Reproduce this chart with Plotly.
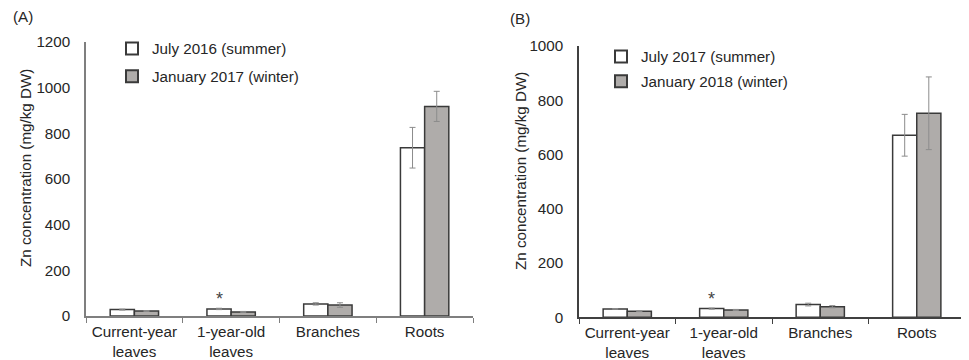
import plotly.graph_objects as go

categories = ["Current-year<br>leaves", "1-year-old<br>leaves", "Branches", "Roots"]

# Panel A
a_summer_name = "July 2016 (summer)"
a_winter_name = "January 2017 (winter)"
a_summer = [28, 31, 53, 737]
a_summer_err = [2, 3, 5, 89]
a_winter = [22, 18, 48, 918]
a_winter_err = [2, 2, 10, 66]

# Panel B
b_summer_name = "July 2017 (summer)"
b_winter_name = "January 2018 (winter)"
b_summer = [31, 32, 47, 671]
b_summer_err = [1, 2, 5, 77]
b_winter = [22, 27, 39, 752]
b_winter_err = [1, 2, 4, 134]

y_title = "Zn concentration (mg/kg DW)"
sig_index = 1  # asterisk over summer bar of 1-year-old leaves

FONT = "Liberation Sans, Arial, sans-serif"
FS = 15.2
TXT = "#262626"
GRAY = "#afacaa"
EDGE = "#3a3a3a"
ERR = "#8c8c8c"

# page has an 8px body margin; size figure so it fits the 969x360 window
OFF = 8
W, H = 969 - OFF, 360 - OFF


def px(x):
    return (x - OFF) / W


def py(y):
    return 1 - (y - OFF) / H


fig = go.Figure()


def add_panel(xa, ya, legend, s_name, s_vals, s_err, w_name, w_vals, w_err):
    fig.add_trace(go.Bar(
        x=categories, y=s_vals, name=s_name, xaxis=xa, yaxis=ya, legend=legend,
        legendgroup=legend + "s",
        marker=dict(color="white", line=dict(color=EDGE, width=1.5)),
        error_y=dict(type="data", array=s_err, color=ERR, thickness=1, width=3),
    ))
    fig.add_trace(go.Bar(
        x=categories, y=w_vals, name=w_name, xaxis=xa, yaxis=ya, legend=legend,
        legendgroup=legend + "w",
        marker=dict(color=GRAY, line=dict(color=EDGE, width=1.5)),
        error_y=dict(type="data", array=w_err, color=ERR, thickness=1, width=3),
    ))


add_panel("x", "y", "legend", a_summer_name, a_summer, a_summer_err,
          a_winter_name, a_winter, a_winter_err)
add_panel("x2", "y2", "legend2", b_summer_name, b_summer, b_summer_err,
          b_winter_name, b_winter, b_winter_err)

xcommon = dict(type="category", tickson="boundaries", ticks="outside", ticklen=5,
               tickwidth=1, showgrid=False, zeroline=False, showline=True, linewidth=1.5,
               automargin=False, ticklabelstandoff=1,
               tickfont=dict(family=FONT, size=FS, color=TXT), range=[-0.5, 3.5])
ycommon = dict(showgrid=False, zeroline=False, showline=True, linewidth=1.5,
               ticks="", dtick=200, ticklabelstandoff=11, automargin=False,
               tickfont=dict(family=FONT, size=FS, color=TXT))

fig.update_layout(
    width=W, height=H,
    margin=dict(l=0, r=0, t=0, b=0),
    paper_bgcolor="white", plot_bgcolor="white",
    barmode="group", bargap=0.5, bargroupgap=0,
    showlegend=True,
    xaxis=dict(domain=[px(86), px(473)], anchor="y", linecolor="#7f7f7f", tickcolor="#7f7f7f", **xcommon),
    yaxis=dict(domain=[py(316), py(42)], anchor="x", range=[0, 1200], linecolor="#7f7f7f", **ycommon),
    xaxis2=dict(domain=[px(579), px(965)], anchor="y2", linecolor="#404040", tickcolor="#404040", **xcommon),
    yaxis2=dict(domain=[py(317.3), py(46)], anchor="x2", range=[0, 1000], linecolor="#404040", **ycommon),
    legend=dict(x=px(112), y=py(32), xanchor="left", yanchor="top", bgcolor="rgba(0,0,0,0)",
                font=dict(family=FONT, size=FS, color=TXT), tracegroupgap=5, itemsizing="constant"),
    legend2=dict(x=px(601), y=py(40), xanchor="left", yanchor="top", bgcolor="rgba(0,0,0,0)",
                 font=dict(family=FONT, size=FS, color=TXT), tracegroupgap=2, itemsizing="constant"),
)

# Y-axis titles
for tx, ty in ((25, 168), (520, 171)):
    fig.add_annotation(text=y_title, x=px(tx), y=py(ty), xref="paper", yref="paper",
                       xanchor="center", yanchor="middle", textangle=-90, showarrow=False,
                       font=dict(family=FONT, size=FS, color=TXT))

# Panel labels
fig.add_annotation(text="(A)", x=px(11), y=py(17), xref="paper", yref="paper",
                   xanchor="left", yanchor="middle", showarrow=False,
                   font=dict(family=FONT, size=FS, color=TXT))
fig.add_annotation(text="(B)", x=px(508), y=py(18), xref="paper", yref="paper",
                   xanchor="left", yanchor="middle", showarrow=False,
                   font=dict(family=FONT, size=FS, color=TXT))

# Significance asterisks over summer bar of 1-year-old leaves
for xr, yr, vals in (("x", "y", a_summer), ("x2", "y2", b_summer)):
    fig.add_annotation(text="*", x=sig_index - 0.125, y=vals[sig_index], xref=xr, yref=yr,
                       xanchor="center", yanchor="bottom", showarrow=False, yshift=-2,
                       font=dict(family=FONT, size=18, color="#444"))

fig.write_html("out.html")
